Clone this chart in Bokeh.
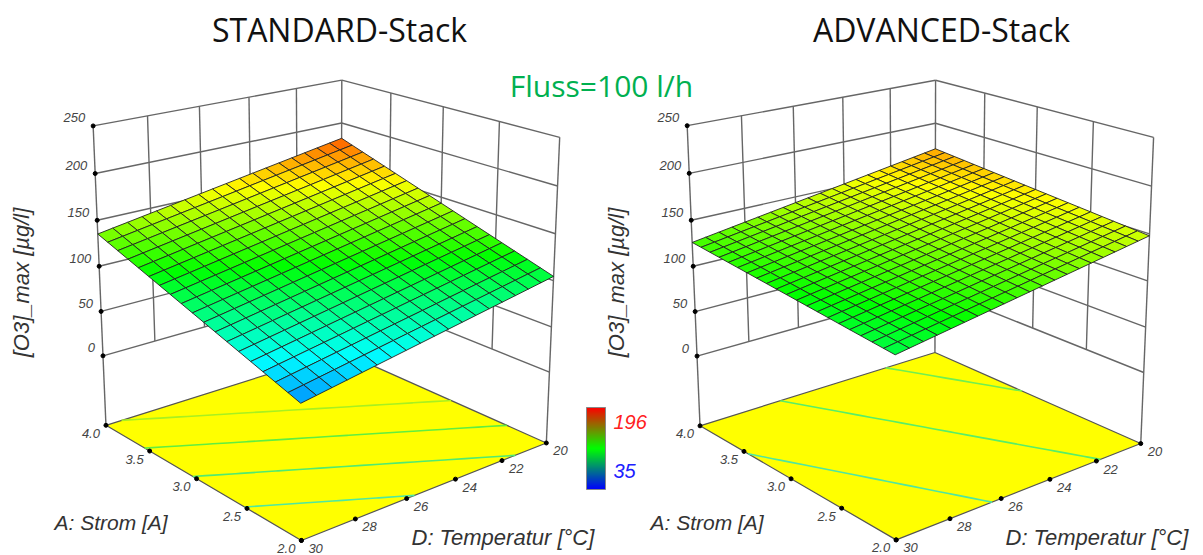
import numpy as np
from bokeh.plotting import figure
from bokeh.models import Range1d
from bokeh.core.properties import value
from bokeh.embed import file_html
from bokeh.resources import INLINE

D_TICKS = [20, 22, 24, 26, 28, 30]
A_TICKS = [2.0, 2.5, 3.0, 3.5, 4.0]
Z_TICKS = [0, 50, 100, 150, 200, 250]
Z_FLOOR = -80
CB_LOW, CB_HIGH = 35, 196

# surface heights: rows A = 4 -> 2, columns D = 20 -> 30
LEFT_Z = [
[182,179.4,176.8,174.2,171.6,169,166.4,163.8,161.2,158.6,156,153.4,150.8,148.2,145.6,143,140.4,137.8,135.2],
[177.7,175.1,172.5,169.9,167.3,164.7,162.1,159.5,156.9,154.3,151.7,149.1,146.5,143.9,141.3,138.7,136.1,133.5,130.9],
[173.4,170.8,168.2,165.6,163,160.4,157.8,155.2,152.6,150,147.4,144.8,142.2,139.6,137,134.4,131.8,129.2,126.6],
[169.1,166.5,163.9,161.3,158.7,156.1,153.5,150.9,148.3,145.7,143.1,140.5,137.9,135.3,132.7,130.1,127.5,124.9,122.3],
[164.8,162.2,159.6,157,154.4,151.8,149.2,146.6,144,141.4,138.8,136.2,133.6,131,128.4,125.8,123.2,120.6,118],
[160.5,157.9,155.3,152.7,150.1,147.5,144.9,142.3,139.7,137.1,134.5,131.9,129.3,126.7,124.1,121.5,118.9,116.3,113.7],
[156.2,153.6,151,148.4,145.8,143.2,140.6,138,135.4,132.8,130.2,127.6,125,122.4,119.8,117.2,114.6,112,109.4],
[151.9,149.3,146.7,144.1,141.5,138.9,136.3,133.7,131.1,128.5,125.9,123.3,120.7,118.1,115.5,112.9,110.3,107.7,105.1],
[147.6,145,142.4,139.8,137.2,134.6,132,129.4,126.8,124.2,121.6,119,116.4,113.8,111.2,108.6,106,103.4,100.8],
[143.3,140.7,138.1,135.5,132.9,130.3,127.7,125.1,122.5,119.9,117.3,114.7,112.1,109.5,106.9,104.3,101.7,99.1,96.5],
[139,136.4,133.8,131.2,128.6,126,123.4,120.8,118.2,115.6,113,110.4,107.8,105.2,102.6,100,97.4,94.8,92.2],
[134.7,132.1,129.5,126.9,124.3,121.7,119.1,116.5,113.9,111.3,108.7,106.1,103.5,100.9,98.3,95.7,93.1,90.5,87.9],
[130.4,127.8,125.2,122.6,120,117.4,114.8,112.2,109.6,107,104.4,101.8,99.2,96.6,94,91.4,88.8,86.2,83.6],
[126.1,123.5,120.9,118.3,115.7,113.1,110.5,107.9,105.3,102.7,100.1,97.5,94.9,92.3,89.7,87.1,84.5,81.9,79.3],
[121.8,119.2,116.6,114,111.4,108.8,106.2,103.6,101,98.4,95.8,93.2,90.6,88,85.4,82.8,80.2,77.6,75],
[117.5,114.9,112.3,109.7,107.1,104.5,101.9,99.3,96.7,94.1,91.5,88.9,86.3,83.7,81.1,78.5,75.9,73.3,70.7],
[113.2,110.6,108,105.4,102.8,100.2,97.6,95,92.4,89.8,87.2,84.6,82,79.4,76.8,74.2,71.6,69,66.4],
[108.9,106.3,103.7,101.1,98.5,95.9,93.3,90.7,88.1,85.5,82.9,80.3,77.7,75.1,72.5,69.9,67.3,64.7,62.1],
[104.6,102,99.4,96.8,94.2,91.6,89,86.4,83.8,81.2,78.6,76,73.4,70.8,68.2,65.6,63,60.4,57.8],
]
RIGHT_Z = [
[170,167.8,165.6,163.4,161.2,159,156.8,154.6,152.4,150.2,148,145.8,143.6,141.4,139.2,137,134.8,132.6,130.4,128.2,126],
[168.9,166.7,164.5,162.3,160.1,157.9,155.7,153.5,151.3,149.1,146.9,144.7,142.5,140.3,138.1,135.9,133.7,131.5,129.3,127.1,124.9],
[167.8,165.6,163.4,161.2,159,156.8,154.6,152.4,150.2,148,145.8,143.6,141.4,139.2,137,134.8,132.6,130.4,128.2,126,123.8],
[166.7,164.5,162.3,160.1,157.9,155.7,153.5,151.3,149.1,146.9,144.7,142.5,140.3,138.1,135.9,133.7,131.5,129.3,127.1,124.9,122.7],
[165.6,163.4,161.2,159,156.8,154.6,152.4,150.2,148,145.8,143.6,141.4,139.2,137,134.8,132.6,130.4,128.2,126,123.8,121.6],
[164.5,162.3,160.1,157.9,155.7,153.5,151.3,149.1,146.9,144.7,142.5,140.3,138.1,135.9,133.7,131.5,129.3,127.1,124.9,122.7,120.5],
[163.4,161.2,159,156.8,154.6,152.4,150.2,148,145.8,143.6,141.4,139.2,137,134.8,132.6,130.4,128.2,126,123.8,121.6,119.4],
[162.3,160.1,157.9,155.7,153.5,151.3,149.1,146.9,144.7,142.5,140.3,138.1,135.9,133.7,131.5,129.3,127.1,124.9,122.7,120.5,118.3],
[161.2,159,156.8,154.6,152.4,150.2,148,145.8,143.6,141.4,139.2,137,134.8,132.6,130.4,128.2,126,123.8,121.6,119.4,117.2],
[160.1,157.9,155.7,153.5,151.3,149.1,146.9,144.7,142.5,140.3,138.1,135.9,133.7,131.5,129.3,127.1,124.9,122.7,120.5,118.3,116.1],
[159,156.8,154.6,152.4,150.2,148,145.8,143.6,141.4,139.2,137,134.8,132.6,130.4,128.2,126,123.8,121.6,119.4,117.2,115],
[157.9,155.7,153.5,151.3,149.1,146.9,144.7,142.5,140.3,138.1,135.9,133.7,131.5,129.3,127.1,124.9,122.7,120.5,118.3,116.1,113.9],
[156.8,154.6,152.4,150.2,148,145.8,143.6,141.4,139.2,137,134.8,132.6,130.4,128.2,126,123.8,121.6,119.4,117.2,115,112.8],
[155.7,153.5,151.3,149.1,146.9,144.7,142.5,140.3,138.1,135.9,133.7,131.5,129.3,127.1,124.9,122.7,120.5,118.3,116.1,113.9,111.7],
[154.6,152.4,150.2,148,145.8,143.6,141.4,139.2,137,134.8,132.6,130.4,128.2,126,123.8,121.6,119.4,117.2,115,112.8,110.6],
[153.5,151.3,149.1,146.9,144.7,142.5,140.3,138.1,135.9,133.7,131.5,129.3,127.1,124.9,122.7,120.5,118.3,116.1,113.9,111.7,109.5],
[152.4,150.2,148,145.8,143.6,141.4,139.2,137,134.8,132.6,130.4,128.2,126,123.8,121.6,119.4,117.2,115,112.8,110.6,108.4],
[151.3,149.1,146.9,144.7,142.5,140.3,138.1,135.9,133.7,131.5,129.3,127.1,124.9,122.7,120.5,118.3,116.1,113.9,111.7,109.5,107.3],
[150.2,148,145.8,143.6,141.4,139.2,137,134.8,132.6,130.4,128.2,126,123.8,121.6,119.4,117.2,115,112.8,110.6,108.4,106.2],
[149.1,146.9,144.7,142.5,140.3,138.1,135.9,133.7,131.5,129.3,127.1,124.9,122.7,120.5,118.3,116.1,113.9,111.7,109.5,107.3,105.1],
[148,145.8,143.6,141.4,139.2,137,134.8,132.6,130.4,128.2,126,123.8,121.6,119.4,117.2,115,112.8,110.6,108.4,106.2,104],
]
LEFT_LEVELS = [78, 98, 118, 138]
RIGHT_LEVELS = [120, 140, 160]
LEFT_LEVEL_COLORS = ["#4ee8a0", "#50ea70", "#60ee40", "#a8f020"]
RIGHT_LEVEL_COLORS = ["#50e6a0", "#58ee68", "#70f050"]

LEFT_ANCHORS = [(30,4,250,92,128),(30,4,200,94,173),(30,4,150,96,219),(30,4,100,99,264),(30,4,50,101,309),(30,4,0,103,355),(30,4,-80,106,427),
 (20,4,250,341,80),(20,4,200,342,122),(20,4,-80,340,351),(20,2,250,560,138),(20,2,200,557,185),(20,2,150,555,232),(20,2,-80,545,443),(30,2,-80,301,540)]
RIGHT_ANCHORS = [(30,4,250,686,127),(30,4,200,688,173),(30,4,150,691,219),(30,4,100,693,264),(30,4,50,695,310),(30,4,0,697,355),(30,4,-80,700,427),
 (20,4,250,935,80),(20,4,200,935,122),(20,4,-80,934,353),(20,2,250,1153,138),(20,2,200,1152,185),(20,2,-80,1140,442),(30,2,-80,895,540)]

def norm(D, A, z):
    return (np.asarray(D,float)-20)/10, (np.asarray(A,float)-2)/2, (np.asarray(z,float)-Z_FLOOR)/330

def fit(anchors):
    M, b = [], []
    for D, A, z, x, y in anchors:
        X, Y, Z = norm(D, A, z)
        M.append([X,Y,Z,1,0,0,0,0,-x*X,-x*Y,-x*Z]); b.append(x)
        M.append([0,0,0,0,X,Y,Z,1,-y*X,-y*Y,-y*Z]); b.append(y)
    s = np.linalg.lstsq(np.array(M,float), np.array(b,float), rcond=None)[0]
    return np.append(s, 1).reshape(3,4)

def projector(anchors):
    P = fit(anchors)
    def proj(D, A, z):
        X, Y, Z = norm(D, A, z)
        w = P[2,0]*X+P[2,1]*Y+P[2,2]*Z+P[2,3]
        return (P[0,0]*X+P[0,1]*Y+P[0,2]*Z+P[0,3])/w, (P[1,0]*X+P[1,1]*Y+P[1,2]*Z+P[1,3])/w
    return proj

STOPS = [(0,0,255),(0,255,255),(0,255,0),(255,255,0),(255,0,0)]
def cmap(v):
    t = np.clip((v-CB_LOW)/(CB_HIGH-CB_LOW),0,1)*4
    i = min(int(t),3); f = t-i
    c = [int(round(STOPS[i][k]*(1-f)+STOPS[i+1][k]*f)) for k in range(3)]
    return "#%02x%02x%02x" % tuple(c)

p = figure(width=1195, height=555, x_range=Range1d(0,1195), y_range=Range1d(555,0),
           toolbar_location=None, output_backend="svg", min_border=0, margin=(0,0,0,0))
p.axis.visible = False
p.grid.visible = False
p.outline_line_color = None
p.background_fill_color = "white"

LINE = "#666666"
TXT = "#444444"
TICK_FONT = value("Liberation Sans")

def panel(anchors, Zg, levels, level_cols):
    n = len(Zg)-1
    pr = projector(anchors)
    fx, fy = pr([30,20,20,30],[4,4,2,2],[Z_FLOOR]*4)
    p.patch(list(fx), list(fy), fill_color="#ffff00", fill_alpha=1, line_color="#555555", line_width=1.2)
    xs, ys = [], []
    def seg(a, b):
        x, y = pr([a[0],b[0]],[a[1],b[1]],[a[2],b[2]])
        xs.append(list(x)); ys.append(list(y))
    for z in Z_TICKS:
        seg((30,4,z),(20,4,z)); seg((20,4,z),(20,2,z))
    for d in D_TICKS[1:-1]:
        seg((d,4,0),(d,4,250))
    for a in A_TICKS[1:-1]:
        seg((20,a,0),(20,a,250))
    seg((30,4,Z_FLOOR),(30,4,250)); seg((20,4,Z_FLOOR),(20,4,250)); seg((20,2,Z_FLOOR),(20,2,250))
    p.multi_line(xs, ys, line_color=LINE, line_width=1.4)
    Zarr = np.array(Zg)
    Ds = [20+10*j/n for j in range(n+1)]
    As = [4-2*i/n for i in range(n+1)]
    for lev, col in zip(levels, level_cols):
        pts = []
        for i in range(n+1):
            for j in range(n):
                a, b = Zarr[i,j], Zarr[i,j+1]
                if (a-lev)*(b-lev) <= 0 and a != b:
                    pts.append((Ds[j]+(lev-a)/(b-a)*(Ds[j+1]-Ds[j]), As[i]))
        for j in range(n+1):
            for i in range(n):
                a, b = Zarr[i,j], Zarr[i+1,j]
                if (a-lev)*(b-lev) <= 0 and a != b:
                    pts.append((Ds[j], As[i]+(lev-a)/(b-a)*(As[i+1]-As[i])))
        pts.sort()
        x, y = pr([q[0] for q in pts],[q[1] for q in pts],[Z_FLOOR]*len(pts))
        p.line(list(x), list(y), line_color=col, line_width=1.6)
    cx, cy, cc = [], [], []
    for i in range(n):
        for j in range(n):
            D4 = [Ds[j],Ds[j+1],Ds[j+1],Ds[j]]
            A4 = [As[i],As[i],As[i+1],As[i+1]]
            Z4 = [Zarr[i,j],Zarr[i,j+1],Zarr[i+1,j+1],Zarr[i+1,j]]
            x, y = pr(D4, A4, Z4)
            cx.append(list(x)); cy.append(list(y)); cc.append(cmap(sum(Z4)/4))
    p.patches(cx, cy, fill_color=cc, fill_alpha=1, line_color="#222222", line_width=0.9)
    zx, zy = pr([30]*len(Z_TICKS),[4]*len(Z_TICKS),Z_TICKS)
    ax, ay = pr([30]*len(A_TICKS),A_TICKS,[Z_FLOOR]*len(A_TICKS))
    dx, dy = pr(D_TICKS,[2]*len(D_TICKS),[Z_FLOOR]*len(D_TICKS))
    p.scatter(list(zx)+list(ax)+list(dx), list(zy)+list(ay)+list(dy), size=4, color="black")
    kw = dict(text_font=TICK_FONT, text_font_style="italic", text_font_size="13px", text_color=TXT, text_baseline="middle")
    p.text(list(zx), list(zy), text=[str(z) for z in Z_TICKS], text_align="right", x_offset=-8, y_offset=-8, **kw)
    p.text(list(ax), list(ay), text=["%.1f" % a for a in A_TICKS], text_align="right", x_offset=-6, y_offset=8, **kw)
    p.text(list(dx), list(dy), text=[str(d) for d in D_TICKS], text_align="left", x_offset=7, y_offset=8, **kw)

panel(LEFT_ANCHORS, LEFT_Z, LEFT_LEVELS, LEFT_LEVEL_COLORS)
panel(RIGHT_ANCHORS, RIGHT_Z, RIGHT_LEVELS, RIGHT_LEVEL_COLORS)

TITLE_FONT = value("Open Sans")
p.text([339],[29],text=["STANDARD-Stack"],text_font=TITLE_FONT,text_font_size="32px",text_color="#111111",text_align="center",text_baseline="middle")
p.text([941],[29],text=["ADVANCED-Stack"],text_font=TITLE_FONT,text_font_size="32px",text_color="#111111",text_align="center",text_baseline="middle")
p.text([601],[85],text=["Fluss=100 l/h"],text_font=TITLE_FONT,text_font_size="30px",text_color="#00b050",text_align="center",text_baseline="middle")

p.text([54,650],[522,522],text=["A: Strom [A]"]*2,text_align="left",text_font=TICK_FONT,text_font_style="italic",text_font_size="21px",text_color="#333333",text_baseline="middle")
p.text([411,1005],[537,537],text=["D: Temperatur [°C]"]*2,text_align="left",text_font=TICK_FONT,text_font_style="italic",text_font_size="22px",text_color="#333333",text_baseline="middle")
p.text([21,616],[282,282],text=["[O3]_max [µg/l]"]*2,text_align="center",angle=np.pi/2,text_font=TICK_FONT,text_font_style="italic",text_font_size="22px",text_color="#333333",text_baseline="middle")

CB_N = 82
bx0, bx1, by0, by1 = 586, 605, 407, 489
for k in range(CB_N):
    t = (k+0.5)/CB_N
    if t < 0.5:
        c = (0, int(255*t*2), int(255*(1-2*t)))
    else:
        c = (int(255*(2*t-1)), int(255*(2-2*t)), 0)
    p.quad(left=[bx0], right=[bx1], bottom=[by1-k*(by1-by0)/CB_N], top=[max(by0, by1-(k+2)*(by1-by0)/CB_N)],
           fill_color="#%02x%02x%02x" % c, fill_alpha=1, line_color=None)
p.quad(left=[bx0], right=[bx1], bottom=[by1], top=[by0], fill_color=None, line_color="#888888", line_width=1)
cb = dict(text_font=TICK_FONT,text_font_style="italic",text_font_size="20px",text_baseline="middle",text_align="left")
p.text([613],[421],text=[str(CB_HIGH)],text_color="#ff2020",**cb)
p.text([613],[470],text=[str(CB_LOW)],text_color="#2020ff",**cb)

open("out.html","w").write(file_html(p, INLINE))
